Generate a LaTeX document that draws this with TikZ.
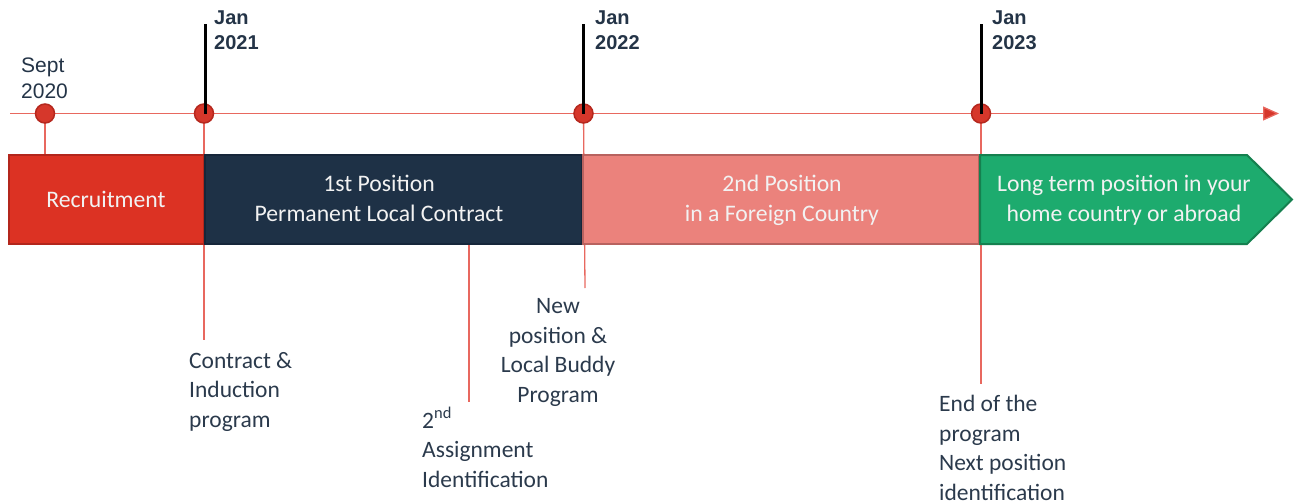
\documentclass[tikz,border=0pt]{standalone}
\usepackage{fontspec}
\setmainfont{Carlito}
\newfontfamily\datefont{Liberation Sans}
\usetikzlibrary{arrows.meta}
\definecolor{recred}{HTML}{DC3223}
\definecolor{recredb}{HTML}{B3261C}
\definecolor{navy}{HTML}{1E3146}
\definecolor{navyb}{HTML}{16263A}
\definecolor{salmon}{HTML}{EB827C}
\definecolor{salmonb}{HTML}{B8625F}
\definecolor{grn}{HTML}{1DAB6E}
\definecolor{grnb}{HTML}{15804F}
\definecolor{tline}{HTML}{E8685F}
\definecolor{dotfill}{HTML}{D6372B}
\definecolor{dotdraw}{HTML}{B5281E}
\definecolor{txt}{HTML}{2B3A4C}
\definecolor{datetxt}{HTML}{243447}
\definecolor{bartxt}{HTML}{F2F2F2}
\begin{document}
\begin{tikzpicture}[x=1pt,y=-1pt,
  conn/.style={draw=tline,line width=1.3pt},
  dot/.style={circle,fill=dotfill,draw=dotdraw,line width=1.5pt,minimum size=19pt,inner sep=0pt},
  pole/.style={draw=black,line width=3pt},
  bar/.style={rectangle,line width=2pt,minimum height=89pt,inner sep=0pt},
  bartext/.style={text=bartxt,font=\fontsize{23.7}{29.5}\selectfont,align=center,inner sep=0pt,anchor=base},
  lbl/.style={text=txt,font=\fontsize{23.5}{29.5}\selectfont,inner sep=0pt},
  datebold/.style={text=datetxt,font=\datefont\bfseries\fontsize{20}{25}\selectfont,align=left,inner sep=0pt,anchor=base west},
  datereg/.style={text=datetxt,font=\datefont\fontsize{21}{26}\selectfont,align=left,inner sep=0pt,anchor=base west}
]
\useasboundingbox (0,0) rectangle (1298,503);

% timeline
\coordinate (tl0) at (10,113.5);
\coordinate (tl1) at (1279,113.5);
\draw[conn,-{Triangle[length=16pt,width=14pt,fill=dotfill]},draw=tline] (tl0) -- (tl1);

% end points of the drop lines
\coordinate (e20) at (45,155);
\coordinate (e21) at (204,340);
\coordinate (e22) at (585,288);
\coordinate (e23) at (981,384);
\coordinate (a2s) at (469,244);
\coordinate (a2e) at (469,402);

\coordinate (p20) at (45,113.5);
\coordinate (p21) at (204,113.5);
\coordinate (p22) at (583.5,113.5);
\coordinate (p23) at (981,113.5);

\draw[conn] (p20) -- (e20);
\draw[conn] (p21) -- (e21);
\draw[conn] (p22) -- (e22);
\draw[conn] (p23) -- (e23);
\draw[conn] (a2s) -- (a2e);

% bars
\node[bar,fill=recred,draw=recredb,minimum width=195pt] (b1) at (106,199.5) {};
\node[bar,fill=navy,draw=navyb,minimum width=377pt] (b2) at (393,199.5) {};
\node[bar,fill=salmon,draw=salmonb,minimum width=396pt] (b3) at (780.5,199.5) {};
\draw[fill=grn,draw=grnb,line width=2pt] (980,155) -- (1247,155) -- (1292,199.5) -- (1247,244) -- (980,244) -- cycle;

\node[bartext] (t1) at (106,207) {Recruitment};
\node[bartext] (t2) at (379,221) {1st Position\\Permanent Local Contract};
\node[bartext] (t3) at (782,221) {2nd Position\\in a Foreign Country};
\node[bartext] (t4) at (1124,221) {Long term position in your\\home country or abroad};

% dots and poles
\node[dot] (d20) at (p20) {};
\node[dot] (d21) at (p21) {};
\node[dot] (d22) at (p22) {};
\node[dot] (d23) at (p23) {};
\coordinate (q21) at (205.5,24);
\coordinate (q22) at (583.5,24);
\coordinate (q23) at (981,24);
\draw[pole] (d21.center) ++(1.5,0) -- (q21);
\draw[pole] (d22.center) -- (q22);
\draw[pole] (d23.center) -- (q23);

% date labels
\node[datereg] (l20) at (21,99) {Sept\\2020};
\node[datebold] (l21) at (214,50) {Jan\\2021};
\node[datebold] (l22) at (595,50) {Jan\\2022};
\node[datebold] (l23) at (992,50) {Jan\\2023};

% bottom labels
\node[lbl,align=left,anchor=base west] (n1) at (189,427) {Contract \&\\Induction\\program};
\node[lbl,align=left,anchor=base west] (n2) at (422,487) {2\textsuperscript{nd}\\Assignment\\Identification};
\node[lbl,align=center,anchor=base] (n3) at (558,402) {New\\position \&\\Local Buddy\\Program};
\node[lbl,align=left,anchor=base west] (n4) at (939,500) {End of the\\program\\Next position\\identification};
\end{tikzpicture}
\end{document}
